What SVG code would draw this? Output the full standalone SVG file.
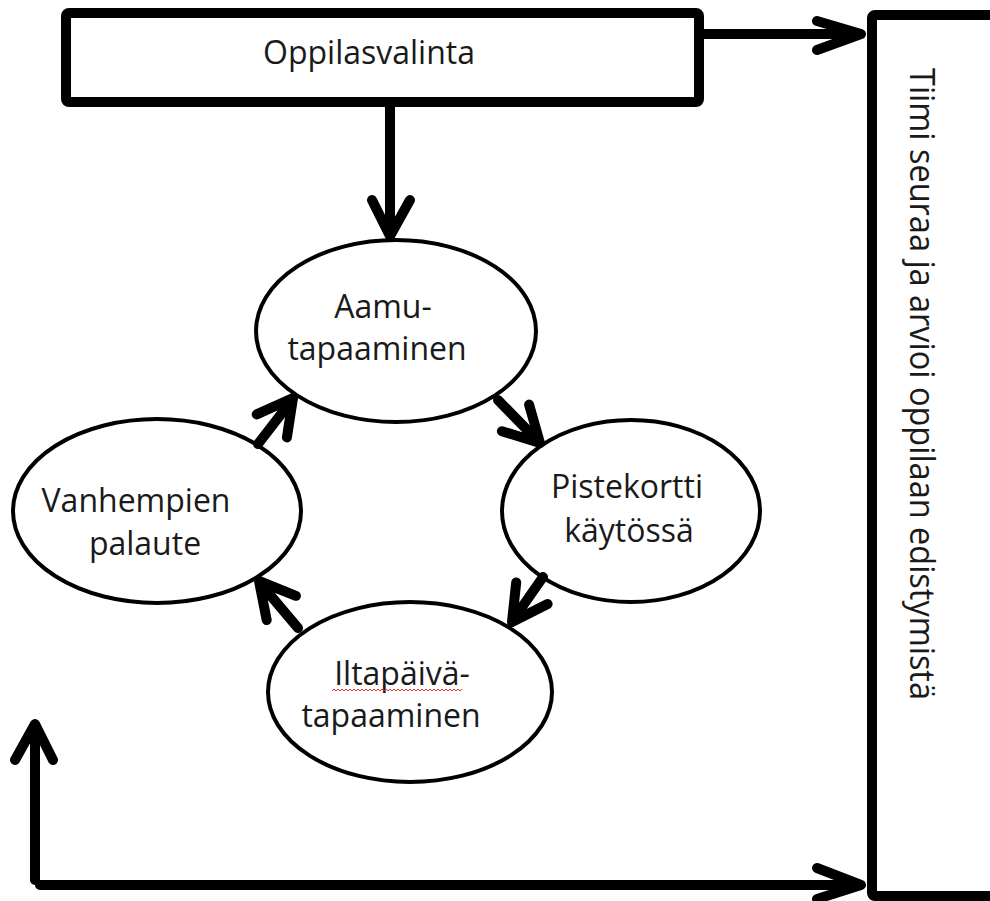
<svg xmlns="http://www.w3.org/2000/svg" width="990" height="901" viewBox="0 0 990 901">
<style>
.box{fill:#fff;stroke:#000;stroke-width:10;stroke-linejoin:round}
.ell{fill:#fff;stroke:#000;stroke-width:4}
.t{font-family:"Open Sans","Noto Sans",sans-serif;font-size:32px;fill:#1a1a1a;text-anchor:middle}
.c{fill:none;stroke:#000;stroke-width:10;stroke-linecap:round;stroke-linejoin:round}
</style>
<defs>
<pattern id="wave" x="0" y="0" width="4" height="4" patternUnits="userSpaceOnUse">
<path d="M0,3 L2,1 L4,3" fill="none" stroke="#e03030" stroke-width="1"/>
</pattern>
</defs>
<rect width="990" height="901" fill="#fff"/>

<g id="oppilasvalinta">
<rect class="box" x="66" y="13" width="633" height="89" rx="3"/>
<text class="t" x="369" y="64">Oppilasvalinta</text>
</g>

<g id="tiimi">
<rect class="box" x="872" y="15" width="140" height="881" rx="3"/>
<text class="t" style="text-anchor:start;font-size:34px" transform="translate(910,68) rotate(90)" textLength="632" lengthAdjust="spacingAndGlyphs">Tiimi seuraa ja arvioi oppilaan edistymistä</text>
</g>

<g id="aamu">
<ellipse class="ell" cx="396" cy="331" rx="140" ry="91"/>
<text class="t" x="383" y="318">Aamu-</text>
<text class="t" x="377" y="360">tapaaminen</text>
</g>

<g id="pistekortti">
<ellipse class="ell" cx="631" cy="511" rx="129" ry="91"/>
<text class="t" x="627" y="498">Pistekortti</text>
<text class="t" x="629" y="542">käytössä</text>
</g>

<g id="iltapaiva">
<ellipse class="ell" cx="410" cy="692" rx="142" ry="90"/>
<text class="t" x="402" y="685">Iltapäivä-</text>
<rect x="332" y="688" width="130" height="4" fill="url(#wave)"/>
<text class="t" x="391" y="727">tapaaminen</text>
</g>

<g id="vanhempien">
<ellipse class="ell" cx="157" cy="511" rx="144" ry="92"/>
<text class="t" x="136" y="512">Vanhempien</text>
<text class="t" x="145" y="555">palaute</text>
</g>

<g id="connectors">
<path class="c" d="M703,34 H860 M817,21 L861,34 L817,50"/>
<path class="c" d="M390,104 V235 M372,200 L390,236 L410,200"/>
<path class="c" d="M498,400 L539,442 M501.9,431.2 L540,443 L529.1,404.6"/>
<path class="c" d="M543,577 L513,620 M516.2,582.4 L512,622 L547.6,604"/>
<path class="c" d="M298,628 L260,583 M295.9,595.8 L259,581 L266.7,620"/>
<path class="c" d="M258,444 L292,400 M286.9,437.4 L293,398 L256.7,414.4"/>
<path class="c" d="M35,880 V725 M15,760 L35,724 L53,760"/>
<path class="c" d="M40,885 H860 M817,868 L861,885 L817,899"/>
</g>
</svg>
